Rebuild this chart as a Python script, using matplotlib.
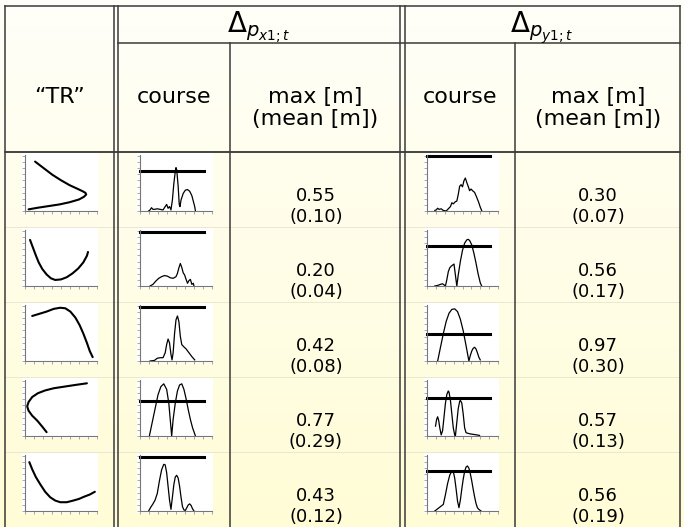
import numpy as np
import matplotlib.pyplot as plt
from matplotlib.patches import Rectangle

W, H = 684, 527

# ---- numbers in the table ----
px_max = [0.55, 0.20, 0.42, 0.77, 0.43]
px_mean = [0.10, 0.04, 0.08, 0.29, 0.12]
py_max = [0.30, 0.56, 0.97, 0.57, 0.56]
py_mean = [0.07, 0.17, 0.30, 0.13, 0.19]

# ---- "TR" trajectory thumbnails (normalised x / y) ----
tr_x = [
    [0.14, 0.20, 0.28, 0.38, 0.50, 0.62, 0.72, 0.80, 0.84, 0.85, 0.82, 0.75, 0.62, 0.48, 0.33, 0.18, 0.05],
    [0.07, 0.11, 0.15, 0.19, 0.24, 0.30, 0.36, 0.42, 0.50, 0.58, 0.66, 0.74, 0.81, 0.86, 0.875],
    [0.10, 0.20, 0.30, 0.40, 0.49, 0.56, 0.63, 0.70, 0.76, 0.81, 0.86, 0.90, 0.94],
    [0.86, 0.70, 0.55, 0.40, 0.28, 0.18, 0.10, 0.05, 0.03, 0.05, 0.10, 0.17, 0.24, 0.30],
    [0.06, 0.10, 0.15, 0.21, 0.28, 0.35, 0.42, 0.49, 0.58, 0.67, 0.75, 0.82, 0.90, 0.97],
]
tr_y = [
    [0.90, 0.84, 0.76, 0.66, 0.56, 0.47, 0.41, 0.36, 0.33, 0.30, 0.26, 0.21, 0.16, 0.12, 0.09, 0.06, 0.03],
    [0.84, 0.70, 0.56, 0.43, 0.31, 0.21, 0.14, 0.11, 0.12, 0.16, 0.23, 0.32, 0.43, 0.55, 0.62],
    [0.82, 0.86, 0.90, 0.95, 0.97, 0.96, 0.90, 0.79, 0.65, 0.50, 0.33, 0.18, 0.07],
    [0.96, 0.93, 0.90, 0.87, 0.83, 0.78, 0.71, 0.62, 0.54, 0.46, 0.37, 0.28, 0.17, 0.07],
    [0.89, 0.76, 0.62, 0.49, 0.35, 0.25, 0.19, 0.16, 0.16, 0.19, 0.22, 0.26, 0.30, 0.35],
]

# ---- course of delta p_x (normalised time / value) and its limit line ----
px_t = [
    [0.12, 0.14, 0.16, 0.18, 0.20, 0.24, 0.28, 0.32, 0.35, 0.37, 0.39, 0.41, 0.43, 0.45, 0.47,
     0.49, 0.50, 0.51, 0.53, 0.545, 0.555, 0.57, 0.60, 0.63, 0.66, 0.69, 0.72, 0.74, 0.76, 0.77],
    [0.14, 0.18, 0.22, 0.26, 0.30, 0.34, 0.38, 0.42, 0.46, 0.50, 0.52, 0.54, 0.56, 0.58, 0.60,
     0.62, 0.64, 0.66, 0.68, 0.70, 0.72, 0.74, 0.75],
    [0.14, 0.20, 0.24, 0.28, 0.32, 0.35, 0.37, 0.39, 0.41, 0.43, 0.445, 0.46, 0.48, 0.50, 0.52,
     0.54, 0.56, 0.58, 0.60, 0.64, 0.68, 0.72, 0.76],
    [0.13, 0.17, 0.21, 0.25, 0.29, 0.33, 0.37, 0.40, 0.42, 0.44, 0.46, 0.49, 0.52, 0.55, 0.58,
     0.61, 0.64, 0.67, 0.70, 0.73, 0.77],
    [0.12, 0.15, 0.18, 0.21, 0.24, 0.27, 0.30, 0.33, 0.35, 0.37, 0.39, 0.41, 0.43, 0.45, 0.47,
     0.49, 0.51, 0.53, 0.55, 0.57, 0.59, 0.61, 0.63, 0.65, 0.67, 0.69, 0.71, 0.73, 0.75],
]
px_d = [
    [0.0, 0.02, 0.06, 0.03, 0.03, 0.04, 0.03, 0.02, 0.08, 0.12, 0.05, 0.08, 0.02, 0.20, 0.50,
     0.72, 0.79, 0.75, 0.45, 0.12, 0.08, 0.20, 0.32, 0.38, 0.39, 0.36, 0.28, 0.18, 0.08, 0.0],
    [0.0, 0.03, 0.09, 0.14, 0.17, 0.19, 0.18, 0.15, 0.14, 0.17, 0.23, 0.33, 0.41, 0.34, 0.24,
     0.20, 0.12, 0.05, 0.10, 0.12, 0.03, 0.05, 0.0],
    [0.0, 0.01, 0.05, 0.06, 0.06, 0.15, 0.30, 0.40, 0.33, 0.12, 0.02, 0.15, 0.50, 0.75, 0.82,
     0.72, 0.45, 0.30, 0.27, 0.22, 0.15, 0.08, 0.02],
    [0.0, 0.25, 0.50, 0.75, 0.90, 0.95, 0.85, 0.60, 0.30, 0.0, 0.30, 0.60, 0.82, 0.93, 0.95,
     0.85, 0.68, 0.48, 0.30, 0.15, 0.0],
    [0.0, 0.07, 0.13, 0.20, 0.32, 0.55, 0.75, 0.85, 0.84, 0.70, 0.45, 0.20, 0.03, 0.25, 0.48,
     0.62, 0.65, 0.60, 0.45, 0.25, 0.08, 0.02, 0.01, 0.06, 0.11, 0.13, 0.10, 0.04, 0.0],
]
px_limit = [0.72, 0.98, 0.98, 0.63, 0.98]

# ---- course of delta p_y ----
py_t = [
    [0.11, 0.13, 0.15, 0.17, 0.20, 0.23, 0.27, 0.30, 0.33, 0.35, 0.37, 0.40, 0.42, 0.44, 0.46,
     0.48, 0.50, 0.52, 0.54, 0.56, 0.58, 0.60, 0.62, 0.65, 0.67, 0.70, 0.73, 0.75, 0.77],
    [0.11, 0.15, 0.19, 0.22, 0.24, 0.26, 0.28, 0.30, 0.32, 0.34, 0.36, 0.38, 0.40, 0.42, 0.44,
     0.47, 0.50, 0.53, 0.56, 0.58, 0.60, 0.63, 0.66, 0.69, 0.72, 0.75, 0.77],
    [0.15, 0.19, 0.23, 0.27, 0.31, 0.35, 0.39, 0.43, 0.47, 0.51, 0.55, 0.59, 0.61, 0.63, 0.65,
     0.67, 0.69, 0.71, 0.73, 0.75],
    [0.12, 0.135, 0.15, 0.165, 0.18, 0.20, 0.22, 0.24, 0.26, 0.28, 0.30, 0.31, 0.33, 0.35, 0.37,
     0.39, 0.40, 0.42, 0.44, 0.46, 0.47, 0.49, 0.51, 0.53, 0.55, 0.60, 0.65, 0.70, 0.74],
    [0.11, 0.15, 0.19, 0.23, 0.26, 0.29, 0.32, 0.35, 0.37, 0.39, 0.41, 0.43, 0.45, 0.47, 0.49,
     0.51, 0.53, 0.55, 0.57, 0.59, 0.61, 0.63, 0.65, 0.67, 0.69, 0.71, 0.73, 0.75, 0.76],
]
py_d = [
    [0.01, 0.02, 0.05, 0.03, 0.04, 0.01, 0.0, 0.04, 0.08, 0.15, 0.13, 0.17, 0.18, 0.30, 0.45,
     0.48, 0.44, 0.55, 0.60, 0.52, 0.45, 0.37, 0.40, 0.36, 0.34, 0.25, 0.15, 0.07, 0.01],
    [0.0, 0.01, 0.03, 0.04, 0.02, 0.0, 0.12, 0.26, 0.33, 0.36, 0.38, 0.40, 0.20, 0.0, 0.20,
     0.45, 0.65, 0.78, 0.84, 0.85, 0.83, 0.75, 0.60, 0.42, 0.22, 0.06, 0.0],
    [0.0, 0.25, 0.50, 0.72, 0.87, 0.94, 0.95, 0.90, 0.76, 0.55, 0.28, 0.0, 0.10, 0.18, 0.23,
     0.25, 0.22, 0.15, 0.07, 0.02],
    [0.18, 0.30, 0.35, 0.28, 0.15, 0.02, 0.10, 0.35, 0.60, 0.76, 0.82, 0.80, 0.65, 0.40, 0.15,
     0.02, 0.0, 0.25, 0.50, 0.63, 0.65, 0.60, 0.40, 0.15, 0.06, 0.04, 0.03, 0.02, 0.01],
    [0.0, 0.04, 0.08, 0.12, 0.30, 0.50, 0.65, 0.73, 0.72, 0.60, 0.40, 0.18, 0.06, 0.20, 0.40,
     0.58, 0.72, 0.80, 0.82, 0.78, 0.68, 0.55, 0.40, 0.26, 0.14, 0.06, 0.03, 0.01, 0.0],
]
py_limit = [1.0, 0.73, 0.49, 0.70, 0.73]

LINE = '#3a3a3a'
ROW_STEP = 75

fig = plt.figure(figsize=(W / 100, H / 100), dpi=100)

# full-figure axes in pixel units for background, rules and text
tab = fig.add_axes([0, 0, 1, 1])
tab.set_xlim(0, W)
tab.set_ylim(H, 0)
tab.axis('off')

grad = np.linspace(0, 1, 256)[:, None]
c_top = np.array([1.0, 1.0, 0.975])
c_bot = np.array([1.0, 0.99, 0.84])
bg = c_top[None, None, :] * (1 - grad[..., None]) + c_bot[None, None, :] * grad[..., None]
bg = np.repeat(bg, 2, axis=1)
tab.imshow(bg, extent=[0, W, H, 0], aspect='auto', zorder=0)

# faint row separators
for i in range(1, 5):
    y = 152 + ROW_STEP * i
    tab.plot([5, 680], [y, y], color='#e6e4cf', lw=0.6, zorder=1)

# table rules
lw = 1.1
tab.plot([5, 680], [6, 6], color=LINE, lw=lw)
tab.plot([118, 680], [43, 43], color=LINE, lw=lw)
tab.plot([5, 680], [152, 152], color='#111111', lw=lw)
for x in [5, 114, 118, 400, 405, 680]:
    tab.plot([x, x], [6, H], color=LINE, lw=lw)
tab.plot([230, 230], [43, H], color=LINE, lw=lw)
tab.plot([515, 515], [43, H], color=LINE, lw=lw)

# header text
hfs = 16
tab.text(60, 103, '\u201cTR\u201d', ha='center', va='baseline', fontsize=hfs)
tab.text(174, 103, 'course', ha='center', va='baseline', fontsize=hfs)
tab.text(460, 103, 'course', ha='center', va='baseline', fontsize=hfs)
for xc in [315, 598]:
    tab.text(xc, 103, 'max [m]', ha='center', va='baseline', fontsize=hfs)
    tab.text(xc, 125, '(mean [m])', ha='center', va='baseline', fontsize=hfs)
tab.text(259, 33, r'$\Delta_{p_{x1;t}}$', ha='center', va='baseline', fontsize=20)
tab.text(542, 33, r'$\Delta_{p_{y1;t}}$', ha='center', va='baseline', fontsize=20)

# value cells
nfs = 13
for i in range(5):
    yb = 201 + ROW_STEP * i
    tab.text(316, yb, f'{px_max[i]:.2f}', ha='center', va='baseline', fontsize=nfs)
    tab.text(316, yb + 21, f'({px_mean[i]:.2f})', ha='center', va='baseline', fontsize=nfs)
    tab.text(598, yb, f'{py_max[i]:.2f}', ha='center', va='baseline', fontsize=nfs)
    tab.text(598, yb + 21, f'({py_mean[i]:.2f})', ha='center', va='baseline', fontsize=nfs)


def thumb(x0, x1, top, bottom):
    """small axes placed in pixel coords, with a white backing box"""
    tab.add_patch(Rectangle((x0 - 3, top - 2), (x1 - x0) + 4, (bottom - top) + 4,
                            facecolor='white', edgecolor='none', zorder=2))
    ax = fig.add_axes([x0 / W, 1 - bottom / H, (x1 - x0) / W, (bottom - top) / H])
    ax.patch.set_alpha(0)
    ax.set_xlim(0, 1)
    ax.set_ylim(0, 1.02)
    for s in ['top', 'right']:
        ax.spines[s].set_visible(False)
    for s in ['left', 'bottom']:
        ax.spines[s].set_color('#777777')
        ax.spines[s].set_linewidth(0.8)
    ax.set_xticks(np.linspace(0, 1, 9))
    ax.set_yticks(np.linspace(0, 1, 10))
    ax.tick_params(length=2, width=0.5, color='#888888', labelbottom=False, labelleft=False)
    return ax


for i in range(5):
    top = 155 + ROW_STEP * i
    bottom = top + 56

    ax = thumb(25, 97, top, bottom)
    ax.plot(tr_x[i], tr_y[i], color='black', lw=1.5, solid_capstyle='round')

    ax = thumb(140, 212, top, bottom)
    ax.plot([0, 0.89], [px_limit[i], px_limit[i]], color='black', lw=2.2, clip_on=False)
    ax.plot(px_t[i], px_d[i], color='black', lw=0.9)

    ax = thumb(427, 498, top, bottom)
    ax.plot([0, 0.89], [py_limit[i], py_limit[i]], color='black', lw=2.2, clip_on=False)
    ax.plot(py_t[i], py_d[i], color='black', lw=0.9)

fig.savefig('out.png', dpi=100)
